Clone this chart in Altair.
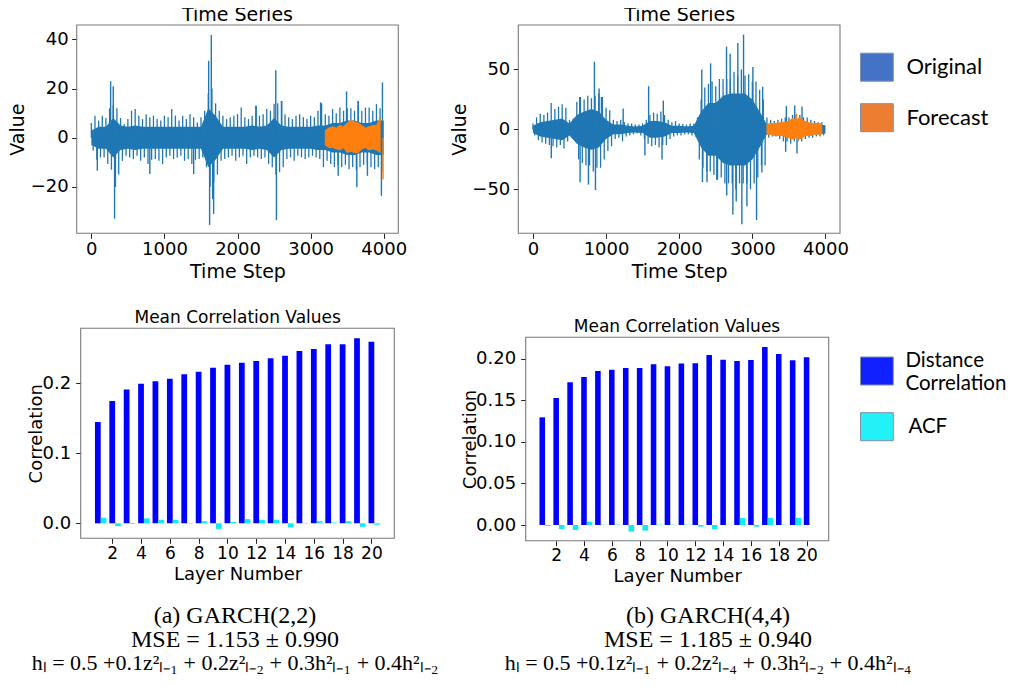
import altair as alt
import pandas as pd

# ------------------------------------------------------------------ data
# Each noisy series is read off the picture as:
#   *_CORE : half-width of its solid core, every 100 steps
#   *_UP / *_LO : its jagged outline, at t = 0, 50, ... (UP) and t = 25, 75, ... (LO)
#   *_SPIKE_T / *_SPIKE_V : isolated large spikes
TL_CORE = [3, 4.5, 4.5, 8, 5, 4.5, 5, 4.5, 4.5, 4.5, 4.5, 4.5, 4.5, 4.5, 4.5, 4.5, 12, 9,
           4.5, 4.5, 4.5, 4.5, 5, 4.5, 5, 8, 5, 4.5, 4.5, 4.5, 4.5, 5, 5, 6, 6, 7, 7, 6, 6, 7, 7]
TL_UP = [6, 9, 7, 9, 8, 12, 13, 12, 8, 5.5,
         7.6, 11, 11.7, 9, 7.6, 9.6, 8.3, 9, 7.6, 7,
         9, 8.3, 11.7, 9, 7, 9, 7.6, 9.6, 8.3, 6.2,
         8.3, 11, 18, 20, 14, 11, 9, 7.6, 8.3, 9,
         9.6, 12.3, 8.3, 7.6, 9, 13, 9, 9.6, 11.7, 11,
         13.7, 14, 15, 9.6, 8.3, 7.6, 9, 9.6, 8.3, 7.6,
         9, 8.3, 11, 14, 9.6, 9, 11.7, 10, 12.3, 11,
         12, 12, 11, 15, 11, 12.3, 12.3, 11, 13.7, 12]
TL_LO = [-5.3, -9, -8, -8, -10.7, -13, -15, -15, -9.4, -7.3,
         -8, -8.7, -7.3, -9.4, -8, -10.7, -9, -8.7, -9.4, -10.7,
         -8, -7.3, -8.7, -8, -7.3, -9.4, -8.7, -10.7, -9, -8.7,
         -8, -12, -20, -18, -15, -9.4, -8.7, -8, -7.3, -9.4,
         -8, -7.3, -10.7, -8, -7.3, -8, -8.7, -8, -10.7, -12,
         -15, -14, -12, -8.7, -8, -9.4, -7.3, -8, -8.7, -8,
         -7.3, -8, -8.7, -12, -9.4, -10.7, -12, -11, -12, -11,
         -12.8, -12, -13, -12, -11, -11, -12, -12.8, -12, -14]
TL_SPIKE_T = [264, 300, 1605, 1641, 2255, 2523, 2605, 3136, 3491, 3650, 3982,
              82, 318, 330, 800, 1400, 1618, 1660, 1673, 2532, 3377, 3632, 3777, 3968]
TL_SPIKE_V = [23, 21, 31.3, 41.8, 13, 27.5, 15, 14.4, 18.9, 15, 22.5,
              -13.4, -33, -20, -14.8, -14.8, -35.5, -25, -31, -33.5, -15.5, -20.2, -15.5, -23.6]
TL_FC_UP = [3, 4, 4.5, 4, 5, 4.5, 6, 7, 6.5, 6, 5, 4, 4.5, 5, 5, 8]
TL_FC_LO = [-3, -4, -4, -4.5, -5, -4, -6, -5.5, -6, -6, -4.5, -4, -5, -4.5, -5, -6]
TL_FC_SPIKE_T = [3990]
TL_FC_SPIKE_V = [-17]

TR_CORE = [3, 6, 7, 8, 9, 5, 12, 15, 17, 15, 8, 4, 4, 3, 2.5, 3, 7, 7, 6, 3, 3, 2.5, 3,
           15, 22, 22, 28, 30, 30, 30, 25, 15, 4, 4, 5, 6, 6, 5, 4, 4, 3.5]
TR_UP = [5, 10, 13, 12, 14, 22, 17, 19, 21, 18,
         8, 9, 23, 27, 25, 28, 26, 28, 30, 27,
         18, 16, 8, 7, 8, 6, 5, 5, 4, 4,
         5, 8, 12, 14, 13, 15, 12, 8, 6, 7,
         5, 4.5, 4, 5, 5, 10, 25, 35, 38, 40,
         36, 42, 42, 42, 42, 48, 45, 50, 45, 46,
         40, 40, 33, 25, 10, 8, 7, 8, 9, 10,
         10, 12, 12, 12, 10, 10, 8, 7, 6, 6]
TR_LO = [-5, -9, -11, -12, -13, -14, -15, -13, -16, -10,
         -6, -8, -25, -28, -30, -30, -35, -32, -32, -25,
         -18, -14, -8, -7, -10, -6, -5, -4, -3.5, -5,
         -8, -12, -14, -13, -15, -13, -13, -8, -6, -5,
         -5, -4, -4, -5, -6, -25, -32, -35, -35, -38,
         -42, -40, -45, -45, -45, -50, -45, -45, -45, -50,
         -45, -40, -30, -30, -7, -6, -6, -8, -10, -10,
         -12, -10, -10, -10, -8, -7, -7, -6, -6, -5]
TR_SPIKE_T = [640, 841, 905, 937, 1234, 1582, 1783, 2309, 2430, 2647, 2697, 2802, 2880,
              3008, 3141, 3465, 3580, 3680,
              251, 645, 759, 855, 1531, 1765, 2318, 2381, 2514, 2650, 2734, 2780, 2857,
              2926, 3058, 3131, 3456, 3611]
TR_SPIKE_V = [27, 56.4, 34, 27, 17.5, 36, 24, 50, 55, 69, 63, 72, 79,
              52, 35.5, 19.4, 20, 19,
              -24, -44, -46, -50.6, -21.7, -25, -44, -44, -42, -55, -71, -60, -79,
              -64, -75.5, -36, -18.6, -20]
TR_FC_UP = [4, 5, 5, 5, 6, 6, 7, 9, 8, 10, 7, 6, 5, 5, 5, 5]
TR_FC_LO = [-4, -4, -5, -5, -5, -6, -7, -8, -7, -8, -6, -5, -5, -4, -4, -4]
TR_FC_SPIKE_T = [3600, 3620]
TR_FC_SPIKE_V = [13, -10]

LAYERS = list(range(1, 21))
BL_DIST = [0.1447, 0.1747, 0.191, 0.1995, 0.203, 0.2066, 0.2128, 0.2166, 0.2223, 0.2266,
           0.2295, 0.2319, 0.2357, 0.2395, 0.2461, 0.249, 0.2557, 0.2557, 0.2643, 0.2595]
BL_ACF = [0.008, -0.004, -0.001, 0.007, 0.005, 0.005, 0.0005, 0.003, -0.008, 0.002,
          0.006, 0.005, 0.005, -0.006, 0.0005, 0.003, 0.001, 0.003, -0.005, -0.002]
BR_DIST = [0.1297, 0.153, 0.1719, 0.1783, 0.1855, 0.1871, 0.1892, 0.1892, 0.1936, 0.1912,
           0.1944, 0.1948, 0.2048, 0.1992, 0.1976, 0.1988, 0.2145, 0.206, 0.1984, 0.202]
BR_ACF = [-0.0012, -0.0048, -0.006, 0.004, 0.0003, 0.0005, -0.008, -0.0068, 0.0005, 0.0003,
          0.0003, -0.002, -0.005, 0.0003, 0.0084, -0.002, 0.0084, 0.0003, 0.0084, 0.0]

TS_LEGEND = ["Original", "Forecast"]
BAR_LEGEND = ["Distance Correlation", "ACF"]
TS_TITLE = "Time Series"
BAR_TITLE = "Mean Correlation Values"
CAP_A = ["(a) GARCH(2,2)", "MSE = 1.153 \u00b1 0.990",
         "h\u2097 = 0.5 +0.1z\u00b2\u2097\u208b\u2081 + 0.2z\u00b2\u2097\u208b\u2082 + 0.3h\u00b2\u2097\u208b\u2081 + 0.4h\u00b2\u2097\u208b\u2082"]
CAP_B = ["(b) GARCH(4,4)", "MSE = 1.185 \u00b1 0.940",
         "h\u2097 = 0.5 +0.1z\u00b2\u2097\u208b\u2081 + 0.2z\u00b2\u2097\u208b\u2084 + 0.3h\u00b2\u2097\u208b\u2082 + 0.4h\u00b2\u2097\u208b\u2084"]

# ------------------------------------------------------------------ style
W, H = 1001, 671
SANS = "DejaVu Sans"
SERIF = "Liberation Serif"
BLUE_LINE = "#1f77b4"
ORANGE_LINE = "#ff7f0e"
FRAME = "#7a7a7a"


def axis_x(offset, values, fmt, title, title_y, lsize, lpad, tsize=19):
    return alt.Axis(orient="bottom", offset=offset, values=values, format=fmt, grid=False,
                    domain=False, ticks=True, tickSize=5, tickColor="#222", tickWidth=1,
                    labelFont=SANS, labelFontSize=lsize, labelColor="black", labelPadding=lpad,
                    labelFlush=False, labelOverlap=False, labelBound=False,
                    title=title, titleFont=SANS, titleFontSize=tsize, titleFontWeight="normal",
                    titleColor="black", titleBaseline="alphabetic", titleY=title_y)


def axis_y(offset, values, fmt, title, title_x, lsize, lpad, tsize):
    return alt.Axis(orient="left", offset=offset, values=values, format=fmt, grid=False,
                    domain=False, ticks=True, tickSize=5, tickColor="#222", tickWidth=1,
                    labelFont=SANS, labelFontSize=lsize, labelColor="black", labelPadding=lpad,
                    labelFlush=False, labelOverlap=False, labelBound=False,
                    title=title, titleFont=SANS, titleFontSize=tsize, titleFontWeight="normal",
                    titleColor="black", titleBaseline="alphabetic", titleX=title_x)


def frame_layer(xdom, ydom, X, Y):
    df = pd.DataFrame({"a": [xdom[0]], "b": [xdom[1]], "c": [ydom[0]], "d": [ydom[1]]})
    return alt.Chart(df).mark_rect(fillOpacity=0, stroke=FRAME, strokeWidth=1.1).encode(
        x=X("a"), x2="b", y=Y("c"), y2="d")


def ts_panel(core, up, lo, sp_t, sp_v, fup, flo, fsp_t, fsp_v, ydom, xr, yr, xoff, yoff,
             yvals, title_x, title_y):
    xdom = [-200, 4199]
    xs = alt.Scale(domain=xdom, range=xr, nice=False, zero=False)
    ys = alt.Scale(domain=ydom, range=yr, nice=False, zero=False)
    xa = axis_x(xoff, [0, 1000, 2000, 3000, 4000], "d", "Time Step", title_y, 18, 2.5)
    ya = axis_y(yoff, yvals, "d", "Value", title_x, 18, 3.5, 19)

    def X(f):
        return alt.X(f, type="quantitative", scale=xs, axis=xa)

    def Y(f):
        return alt.Y(f, type="quantitative", scale=ys, axis=ya)

    core_df = pd.DataFrame({"t": [100 * k for k in range(len(core))], "c": core})
    core_l = alt.Chart(core_df).transform_calculate(neg="-datum.c").mark_area(
        color=BLUE_LINE, opacity=1).encode(x=X("t"), y=Y("c"), y2="neg:Q")

    comb_df = pd.DataFrame({
        "t": [50 * k for k in range(len(up))] + [50 * k + 25 for k in range(len(lo))],
        "v": up + lo})
    comb = alt.Chart(comb_df).transform_calculate(base="0").mark_rule(
        color=BLUE_LINE, strokeWidth=1.3).encode(x=X("t"), y=Y("v"), y2="base:Q")

    def spikes(ts, vs, color):
        return alt.Chart(pd.DataFrame({"t": ts, "v": vs})).transform_calculate(
            base="0").mark_rule(color=color, strokeWidth=1.4).encode(
            x=X("t"), y=Y("v"), y2="base:Q")

    fband = alt.Chart(pd.DataFrame({"t": [3200 + 50 * k for k in range(len(fup))],
                                    "up": fup, "lo": flo})).mark_area(
        color=ORANGE_LINE, opacity=1, stroke=ORANGE_LINE, strokeWidth=1).encode(
        x=X("t"), y=Y("up"), y2="lo")

    return alt.layer(core_l, comb, spikes(sp_t, sp_v, BLUE_LINE), fband,
                     spikes(fsp_t, fsp_v, ORANGE_LINE), frame_layer(xdom, ydom, X, Y))


def bar_panel(dist, acf, ydom, xr, yr, xoff, yoff, yvals, yfmt, title_x, title_y):
    xdom = [-0.19, 21.59]
    xs = alt.Scale(domain=xdom, range=xr, nice=False, zero=False)
    ys = alt.Scale(domain=ydom, range=yr, nice=False, zero=False)
    xa = axis_x(xoff, list(range(2, 21, 2)), "d", "Layer Number", title_y, 17, 2, 18)
    ya = axis_y(yoff, yvals, yfmt, "Correlation", title_x, 18, 5, 18)

    def X(f):
        return alt.X(f, type="quantitative", scale=xs, axis=xa)

    def Y(f):
        return alt.Y(f, type="quantitative", scale=ys, axis=ya)

    df = pd.DataFrame({"layer": LAYERS, "dist": dist, "acf": acf})
    b1 = alt.Chart(df).transform_calculate(
        x0="datum.layer - 0.2", x1="datum.layer + 0.2", base="0").mark_bar(
        color="#0000ff").encode(x=X("x0:Q"), x2="x1:Q", y=Y("dist:Q"), y2="base:Q")
    b2 = alt.Chart(df).transform_calculate(
        x0="datum.layer + 0.2", x1="datum.layer + 0.6", base="0").mark_bar(
        color="#12eaf2").encode(x=X("x0:Q"), x2="x1:Q", y=Y("acf:Q"), y2="base:Q")
    return alt.layer(b1, b2, frame_layer(xdom, ydom, X, Y))


def text_layer(s, x, y, size, font):
    return alt.Chart(pd.DataFrame({"s": [s]})).mark_text(
        align="center", baseline="alphabetic", font=font, fontSize=size,
        fontWeight="normal", color="black").encode(
        text="s:N", x=alt.value(x), y=alt.value(y))


def legend_layer(labels, colors, lx, ly, row_pad, label_offset, size=22, baseline="middle",
                 label_expr=None):
    leg = dict(orient="none", legendX=lx, legendY=ly, title=None, padding=0,
               symbolType="M-1.17,-1H1.17V1H-1.17Z", symbolSize=784, symbolOpacity=1,
               symbolStrokeColor="#7f8ea8", symbolStrokeWidth=1,
               labelFont="Lato", labelFontSize=size, labelColor="black",
               labelOffset=label_offset, labelBaseline=baseline,
               labelLimit=0, rowPadding=row_pad)
    if label_expr:
        leg["labelExpr"] = label_expr
    return alt.Chart(pd.DataFrame({"label": labels})).mark_square(
        filled=True, size=10).encode(
        x=alt.value(-60), y=alt.value(-60),
        color=alt.Color("label:N", scale=alt.Scale(domain=labels, range=colors),
                        legend=alt.Legend(**leg)))


# ------------------------------------------------------------------ panels
tl = ts_panel(TL_CORE, TL_UP, TL_LO, TL_SPIKE_T, TL_SPIKE_V, TL_FC_UP, TL_FC_LO,
              TL_FC_SPIKE_T, TL_FC_SPIKE_V, [-38.9, 45.9], [68.7, 390.3], [225.3, 17.0],
              225.3 - H, -68.7, [-20, 0, 20, 40], -53.4, 44.5)
tr = ts_panel(TR_CORE, TR_UP, TR_LO, TR_SPIKE_T, TR_SPIKE_V, TR_FC_UP, TR_FC_LO,
              TR_FC_SPIKE_T, TR_FC_SPIKE_V, [-86.6, 87.0], [510.3, 832.0], [225.3, 17.0],
              225.3 - H, -510.3, [-50, 0, 50], -52.6, 44.5)
bl = bar_panel(BL_DIST, BL_ACF, [-0.0214, 0.2786], [72.7, 386.3], [530.3, 320.3],
               530.3 - H, -72.7, [0.0, 0.1, 0.2], ".1f", -39, 41.5)
br = bar_panel(BR_DIST, BR_ACF, [-0.0189, 0.2261], [517.7, 820.7], [532.7, 329.3],
               532.7 - H, -517.7, [0.0, 0.05, 0.10, 0.15, 0.20], ".2f", -50.7, 40.5)

leg_ts = legend_layer(TS_LEGEND, ["#4472C4", "#ED7D31"], 854.4, 44.7, 17.5, 15)
leg_dc = legend_layer(BAR_LEGEND[:1], ["#1020FF"], 854.4, 348.5, 0, 14, 20.5, "bottom",
                      "['Distance', 'Correlation']")
leg_acf = legend_layer(BAR_LEGEND[1:], ["#22F2F7"], 854.4, 404.2, 0, 17, 20.5)

texts = [
    text_layer(TS_TITLE, 229.5, 12.5, 19, SANS),
    text_layer(TS_TITLE, 671.7, 12.5, 19, SANS),
    text_layer(BAR_TITLE, 229.7, 315, 17, SANS),
    text_layer(BAR_TITLE, 669, 324, 17, SANS),
    text_layer(CAP_A[0], 227, 615, 24, SERIF),
    text_layer(CAP_A[1], 227, 639, 24, SERIF),
    text_layer(CAP_A[2], 227, 661.5, 22, SERIF),
    text_layer(CAP_B[0], 700, 615, 24, SERIF),
    text_layer(CAP_B[1], 700, 639, 24, SERIF),
    text_layer(CAP_B[2], 700, 661.5, 22, SERIF),
]

chart = alt.layer(tl, tr, bl, br, leg_ts, leg_dc, leg_acf, *texts).resolve_scale(
    x="independent", y="independent", color="independent").resolve_axis(
    x="independent", y="independent").resolve_legend(color="independent").properties(
    width=W, height=H, autosize=alt.AutoSizeParams(type="none"), padding=0,
    background="white").configure_view(stroke=None)

chart.save("out.html", embed_options={"renderer": "svg", "actions": False})
